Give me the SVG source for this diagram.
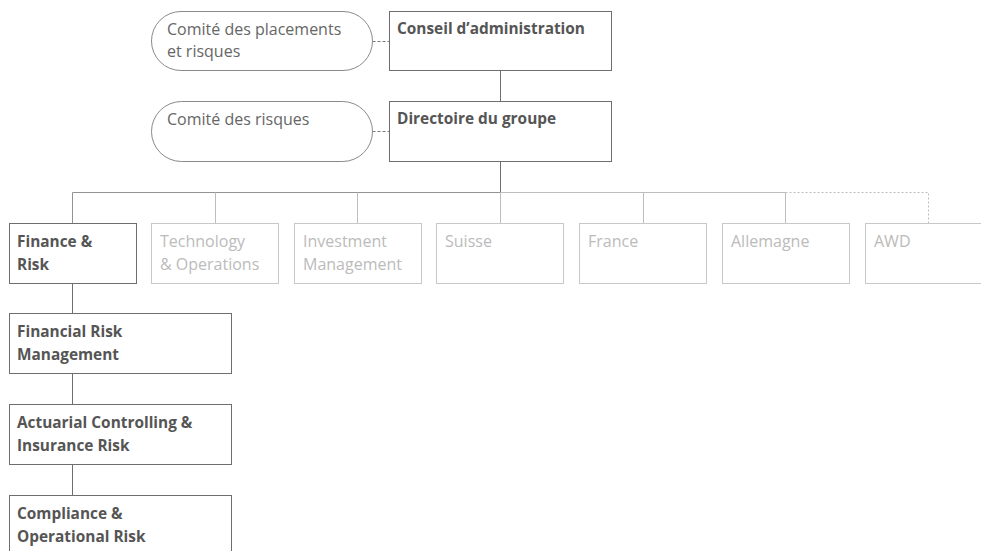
<svg xmlns="http://www.w3.org/2000/svg" width="981" height="551" viewBox="0 0 981 551">
<style>
text{font-family:"Open Sans","Liberation Sans",sans-serif;font-size:16px}
.b{font-weight:bold;font-size:15.4px;fill:#555}
.r{fill:#666}
.g{fill:#bbb}
.dk{fill:#fff;stroke:#6e6e6e;stroke-width:1}
.lt{fill:#fff;stroke:#c8c8c8;stroke-width:1}
.pill{fill:#fff;stroke:#8a8a8a;stroke-width:1}
.cd{fill:none;stroke:#6e6e6e;stroke-width:1}
.cm{fill:none;stroke:#939393;stroke-width:1}
.cl{fill:none;stroke:#bdbdbd;stroke-width:1}
.dash{fill:none;stroke:#777;stroke-width:1;stroke-dasharray:3 2}
.dashl{fill:none;stroke:#bdbdbd;stroke-width:1;stroke-dasharray:2 2}
</style>
<rect width="981" height="551" fill="#fff"/>
<g id="connectors">
<path class="dash" d="M372.5 41.5H389.5"/>
<path class="dash" d="M372.5 131.5H389.5"/>
<path class="cd" d="M500.5 70.5V101.5"/>
<path class="cd" d="M500.5 161.5V192.5"/>
<path class="cm" d="M500.5 192.5H72.5V223.5"/>
<path class="cl" d="M500.5 192.5H785.5"/>
<path class="cl" d="M215.5 192.5V223.5M357.5 192.5V223.5M500.5 192.5V223.5M643.5 192.5V223.5M785.5 192.5V223.5"/>
<path class="dashl" d="M785.5 192.5H928.5V223.5"/>
<path class="cd" d="M72.5 283.5V313.5M72.5 373.5V404.5M72.5 464.5V495.5"/>
</g>
<g id="comite-placements">
<rect class="pill" x="151.5" y="11.5" width="221" height="59" rx="29.5"/>
<text class="r" x="167" y="35">Comité des placements</text>
<text class="r" x="167" y="57">et risques</text>
</g>
<g id="conseil">
<rect class="dk" x="389.5" y="11.5" width="222" height="59"/>
<text class="b" x="397" y="34">Conseil d’administration</text>
</g>
<g id="comite-risques">
<rect class="pill" x="151.5" y="101.5" width="221" height="60" rx="30"/>
<text class="r" x="167" y="125">Comité des risques</text>
</g>
<g id="directoire">
<rect class="dk" x="389.5" y="101.5" width="222" height="60"/>
<text class="b" x="397" y="124">Directoire du groupe</text>
</g>
<g id="finance-risk">
<rect class="dk" x="9.5" y="223.5" width="127" height="60"/>
<text class="b" x="17" y="247">Finance &amp;</text>
<text class="b" x="17" y="270">Risk</text>
</g>
<g id="technology">
<rect class="lt" x="151.5" y="223.5" width="127" height="60"/>
<text class="g" x="160" y="247">Technology</text>
<text class="g" x="160" y="270">&amp; Operations</text>
</g>
<g id="investment">
<rect class="lt" x="294.5" y="223.5" width="127" height="60"/>
<text class="g" x="303" y="247">Investment</text>
<text class="g" x="303" y="270">Management</text>
</g>
<g id="suisse">
<rect class="lt" x="436.5" y="223.5" width="127" height="60"/>
<text class="g" x="445" y="247">Suisse</text>
</g>
<g id="france">
<rect class="lt" x="579.5" y="223.5" width="127" height="60"/>
<text class="g" x="588" y="247">France</text>
</g>
<g id="allemagne">
<rect class="lt" x="722.5" y="223.5" width="127" height="60"/>
<text class="g" x="731" y="247">Allemagne</text>
</g>
<g id="awd">
<rect class="lt" x="865.5" y="223.5" width="127" height="60"/>
<text class="g" x="874" y="247">AWD</text>
</g>
<g id="financial-risk">
<rect class="dk" x="9.5" y="313.5" width="222" height="60"/>
<text class="b" x="17" y="337">Financial Risk</text>
<text class="b" x="17" y="360">Management</text>
</g>
<g id="actuarial">
<rect class="dk" x="9.5" y="404.5" width="222" height="60"/>
<text class="b" x="17" y="428">Actuarial Controlling &amp;</text>
<text class="b" x="17" y="451">Insurance Risk</text>
</g>
<g id="compliance">
<rect class="dk" x="9.5" y="495.5" width="222" height="70"/>
<text class="b" x="17" y="519">Compliance &amp;</text>
<text class="b" x="17" y="542">Operational Risk</text>
</g>
</svg>
